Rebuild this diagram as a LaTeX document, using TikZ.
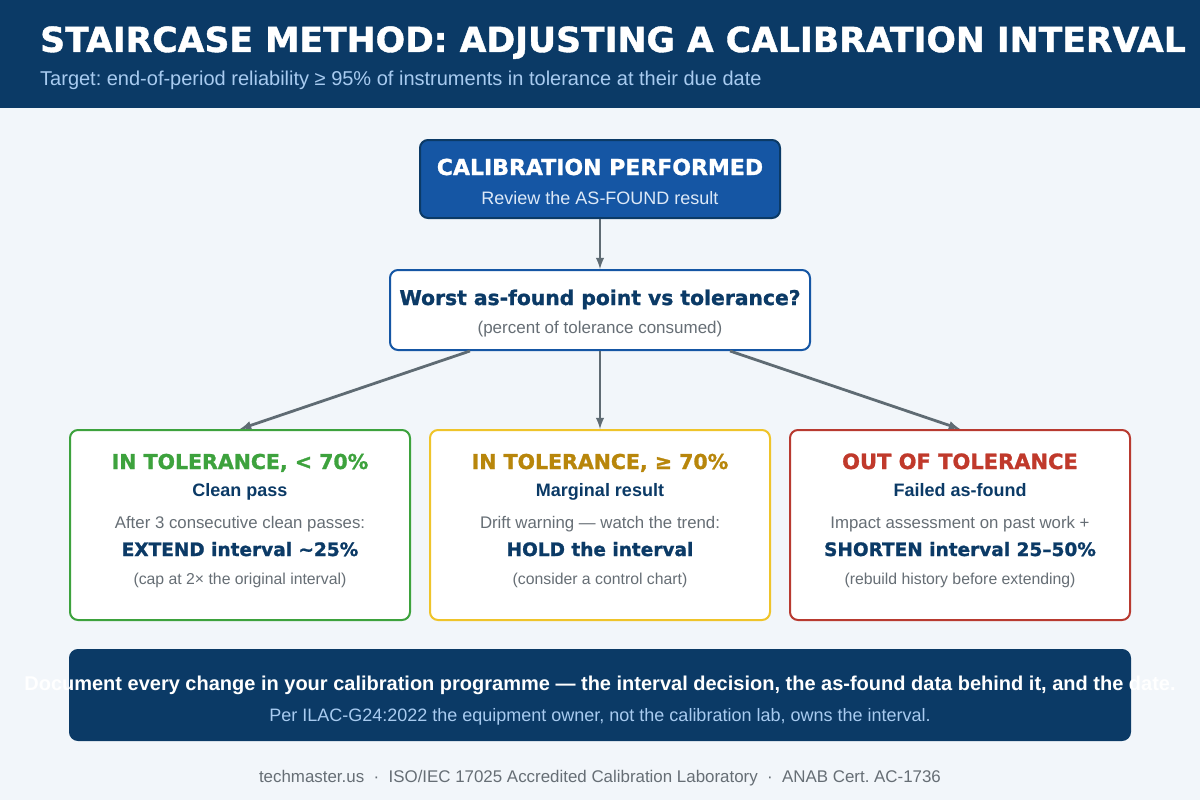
\documentclass[tikz,border=0pt]{standalone}
\usepackage{fontspec}
\setmainfont{Liberation Sans}
\newfontfamily\heavy{DejaVu Sans}[BoldFeatures={FakeBold=1.2}]
\usetikzlibrary{positioning, arrows}
\frenchspacing

\definecolor{navy}{HTML}{0B3A66}
\definecolor{blueone}{HTML}{1556A4}
\definecolor{pagebg}{HTML}{F2F6FA}
\definecolor{arrowgray}{HTML}{5F6B73}
\definecolor{textgray}{HTML}{666E75}
\definecolor{lightblue}{HTML}{A8CBF0}
\definecolor{paleblue}{HTML}{DDE9F7}
\definecolor{passgreen}{HTML}{3DA23D}
\definecolor{holdgold}{HTML}{EFC42A}
\definecolor{holdtext}{HTML}{B8860B}
\definecolor{failred}{HTML}{B83A30}
\definecolor{failtext}{HTML}{C0392B}

\newcommand{\fsz}[1]{\fontsize{#1}{#1}\selectfont}

\begin{document}
\frenchspacing
\begin{tikzpicture}[x=1pt, y=-1pt,
  box/.style={rectangle, rounded corners=8pt, line width=2pt, fill=white, inner sep=0pt},
  txt/.style={anchor=base, inner sep=0pt, execute at begin node=\frenchspacing},
  arr/.style={-latex, line width=2.8pt, draw=arrowgray}]
% page and header
\fill[pagebg] (0,0) rectangle (1200,800);
\fill[navy] (0,0) rectangle (1200,108);
\useasboundingbox (0,0) rectangle (1200,800);
\node[txt, anchor=base west, text=white] (title) at (40,52) {\heavy\bfseries\fsz{34.6}STAIRCASE METHOD: ADJUSTING A CALIBRATION INTERVAL};
\node[txt, anchor=base west, text=lightblue] (target) at (40,85) {\fsz{20}Target: end-of-period reliability ≥ 95\% of instruments in tolerance at their due date};

% top boxes
\node[box, fill=blueone, draw=navy, minimum width=360pt, minimum height=78pt] (perf) at (600,179) {};
\node[txt, text=white] (perfT) at (600,175) {\heavy\bfseries\fsz{22}CALIBRATION PERFORMED};
\node[txt, text=paleblue] (perfS) at (600,204) {\fsz{18}Review the AS-FOUND result};

\node[box, draw=blueone, minimum width=420pt, minimum height=80pt] (worst) at (600,310) {};
\node[txt, text=navy] (worstT) at (600,305) {\heavy\bfseries\fsz{20.3}Worst as-found point vs tolerance?};
\node[txt, text=textgray] (worstS) at (600,333) {\fsz{17}(percent of tolerance consumed)};

% outcome boxes
\node[box, draw=passgreen, minimum width=340pt, minimum height=190pt] (pass) at (240,525) {};
\node[txt, text=passgreen] (passT) at (240,469) {\heavy\bfseries\fsz{20.5}IN TOLERANCE, < 70\%};
\node[txt, text=navy] (passA) at (240,496) {\bfseries\fsz{18}Clean pass};
\node[txt, text=textgray] (passB) at (240,528) {\fsz{16.8}After 3 consecutive clean passes:};
\node[txt, text=navy] (passC) at (240,556) {\heavy\bfseries\fsz{18.5}EXTEND interval \textasciitilde25\%};
\node[txt, text=textgray] (passD) at (240,584) {\fsz{15.8}(cap at 2× the original interval)};

\node[box, draw=holdgold, minimum width=340pt, minimum height=190pt] (hold) at (600,525) {};
\node[txt, text=holdtext] (holdT) at (600,469) {\heavy\bfseries\fsz{20.5}IN TOLERANCE, ≥ 70\%};
\node[txt, text=navy] (holdA) at (600,496) {\bfseries\fsz{18}Marginal result};
\node[txt, text=textgray] (holdB) at (600,528) {\fsz{16.8}Drift warning — watch the trend:};
\node[txt, text=navy] (holdC) at (600,556) {\heavy\bfseries\fsz{18.5}HOLD the interval};
\node[txt, text=textgray] (holdD) at (600,584) {\fsz{15.8}(consider a control chart)};

\node[box, draw=failred, minimum width=340pt, minimum height=190pt] (fail) at (960,525) {};
\node[txt, text=failtext] (failT) at (960,469) {\heavy\bfseries\fsz{21}OUT OF TOLERANCE};
\node[txt, text=navy] (failA) at (960,496) {\bfseries\fsz{18}Failed as-found};
\node[txt, text=textgray] (failB) at (960,528) {\fsz{16.8}Impact assessment on past work +};
\node[txt, text=navy] (failC) at (960,556) {\heavy\bfseries\fsz{18.5}SHORTEN interval 25–50\%};
\node[txt, text=textgray] (failD) at (960,584) {\fsz{15.8}(rebuild history before extending)};

% connectors
\draw[arr] (perf.south) -- (worst.north);
\draw[arr] ([xshift=-130pt]worst.south) -- (pass.north);
\draw[arr] (worst.south) -- (hold.north);
\draw[arr] ([xshift=130pt]worst.south) -- (fail.north);

% banner and footer
\node[box, fill=navy, draw=navy, minimum width=1060pt, minimum height=90pt] (banner) at (600,695) {};
\node[txt, text=white] (bannerT) at (600,690) {\bfseries\fsz{20}Document every change in your calibration programme — the interval decision, the as-found data behind it, and the date.};
\node[txt, text=lightblue] (bannerS) at (600,721) {\fsz{18}Per ILAC-G24:2022 the equipment owner, not the calibration lab, owns the interval.};
\node[txt, text=textgray] (footer) at (600,782) {\fsz{16.9}techmaster.us \ · \ ISO/IEC 17025 Accredited Calibration Laboratory \ · \ ANAB Cert. AC-1736};
\end{tikzpicture}
\end{document}
